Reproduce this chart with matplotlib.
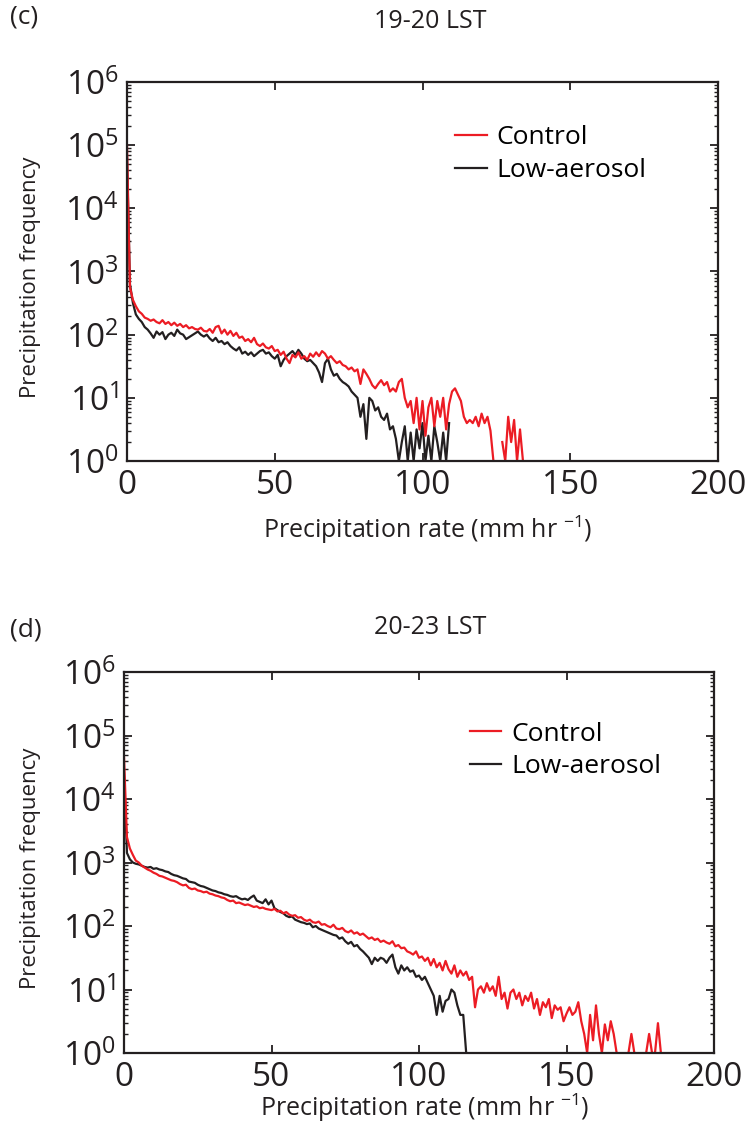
import numpy as np
import matplotlib
matplotlib.use('Agg')
import matplotlib.pyplot as plt
from matplotlib.ticker import LogLocator, NullFormatter

# ----------------------------- data (log10 of precipitation frequency, None = no counts)

# panel (c), 19-20 LST, 1 mm/hr bins starting at 0
ctrl_c = [5.0, 2.75, 2.55, 2.45, 2.37, 2.33, 2.27, 2.25, 2.22, 2.24,
          2.2, 2.18, 2.23, 2.17, 2.2, 2.15, 2.19, 2.14, 2.17, 2.12,
          2.15, 2.1, 2.12, 2.09, 2.08, 2.11, 2.06, 2.05, 2.09, 2.03,
          2.12, 2.14, 2.02, 2.08, 2.0, 2.06, 1.98, 2.03, 1.95, 1.97,
          1.9, 1.93, 1.88, 1.95, 1.85, 1.82, 1.86, 1.8, 1.78, 1.82,
          1.74, 1.76, 1.68, 1.73, 1.62, 1.55, 1.68, 1.64, 1.72, 1.62,
          1.66, 1.6, 1.7, 1.65, 1.72, 1.66, 1.74, 1.7, 1.62, 1.66,
          1.6, 1.55, 1.58, 1.52, 1.5, 1.45, 1.48, 1.42, 1.45, 1.22,
          1.45, 1.38, 1.3, 1.2, 1.15, 1.22, 1.28, 1.2, 1.25, 1.1,
          1.15, 1.1, 1.25, 1.3, 1.0, 0.85, 0.95, 0.6, 1.0, 0.5,
          0.95, 0.4, 0.85, 1.0, 0.55, 0.95, 0.7, 1.0, 0.5, 0.9,
          1.1, 1.15, 1.05, 0.95, 0.7, 0.6, 0.65, 0.6, 0.7, 0.55,
          0.75, 0.6, 0.7, 0.48, 0.0, None, None, 0.3, 0.0, 0.7,
          0.3, 0.65, 0.0, 0.5, 0.0]

low_c = [4.8, 2.8, 2.5, 2.32, 2.25, 2.2, 2.12, 2.08, 2.02, 1.95,
         2.05, 2.0, 2.04, 1.93, 2.0, 2.03, 1.98, 2.08, 2.02, 2.0,
         1.93, 1.96, 1.99, 2.02, 2.05, 2.0, 1.97, 2.0, 1.94, 1.9,
         1.95, 1.88, 1.9, 1.85, 1.88, 1.82, 1.78, 1.75, 1.8, 1.7,
         1.73, 1.68, 1.72, 1.66, 1.7, 1.74, 1.76, 1.7, 1.72, 1.66,
         1.62, 1.68, 1.5, 1.6, 1.66, 1.7, 1.74, 1.68, 1.76, 1.7,
         1.62, 1.58, 1.6, 1.55, 1.5, 1.4, 1.25, 1.55, 1.62, 1.45,
         1.35, 1.38, 1.3, 1.25, 1.22, 1.18, 1.1, 1.05, 1.0, 0.7,
         0.9, 0.35, 1.0, 0.95, 0.8, 0.85, 0.7, 0.65, 0.75, 0.5,
         0.55, 0.35, 0.0, 0.3, 0.55, 0.0, 0.45, 0.0, 0.5, 0.2,
         0.6, 0.0, 0.4, 0.0, 0.55, 0.3, 0.0, 0.45, 0.0, 0.6]

# panel (d), 20-23 LST
ctrl_d = [4.66, 3.4, 3.22, 3.12, 3.03, 3.0, 2.95, 2.92, 2.89, 2.87,
          2.84, 2.82, 2.79, 2.78, 2.76, 2.74, 2.72, 2.71, 2.69, 2.66,
          2.64, 2.65, 2.6, 2.58, 2.59, 2.56, 2.55, 2.53, 2.54, 2.51,
          2.5, 2.48, 2.47, 2.45, 2.44, 2.41, 2.39, 2.4, 2.36, 2.37,
          2.35, 2.33, 2.34, 2.32, 2.3, 2.31, 2.28, 2.29, 2.27, 2.26,
          2.25, 2.27, 2.23, 2.24, 2.2, 2.22, 2.18, 2.16, 2.17, 2.13,
          2.14, 2.1, 2.08, 2.1, 2.06, 2.05, 2.07, 2.02, 2.03, 2.0,
          1.98, 2.02, 1.96, 1.95, 1.97, 1.92, 1.9, 1.93, 1.88, 1.9,
          1.86, 1.88, 1.84, 1.8, 1.82, 1.78, 1.8, 1.75, 1.77, 1.74,
          1.72, 1.76, 1.68, 1.7, 1.65, 1.66, 1.6, 1.58, 1.55, 1.6,
          1.5, 1.52, 1.45, 1.5, 1.38, 1.48, 1.35, 1.42, 1.3, 1.45,
          1.32, 1.25, 1.38, 1.2, 1.3, 1.22, 1.28, 1.15, 1.2, 0.72,
          1.0, 1.05, 0.95, 1.1, 0.98, 1.05, 0.9, 1.2, 0.85, 0.95,
          0.7, 0.95, 1.0, 0.85, 0.95, 0.75, 0.9, 0.82, 0.95, 0.7,
          0.85, 0.6, 0.8, 0.72, 0.85, 0.55, 0.75, 0.68, 0.72, 0.5,
          0.62, 0.72, 0.6, 0.65, 0.8, 0.5, 0.3, 0.0, 0.6, 0.2,
          0.75, 0.3, 0.0, 0.45, 0.2, 0.5, 0.3, 0.0, None, None,
          None, 0.0, 0.3, 0.0, None, None, None, 0.0, 0.3, 0.0,
          0.0, 0.47, 0.0, None]

low_d = [4.4, 3.15, 3.05, 3.0, 2.98, 2.97, 2.95, 2.93, 2.92, 2.93,
         2.9, 2.91, 2.89, 2.88, 2.86, 2.85, 2.82, 2.8, 2.79, 2.77,
         2.75, 2.74, 2.7, 2.69, 2.68, 2.65, 2.63, 2.62, 2.6, 2.58,
         2.56, 2.55, 2.53, 2.52, 2.5, 2.49, 2.47, 2.46, 2.47, 2.44,
         2.42, 2.43, 2.41, 2.45, 2.48, 2.4, 2.38, 2.36, 2.42, 2.34,
         2.4, 2.28, 2.25, 2.22, 2.2, 2.16, 2.14, 2.15, 2.1, 2.08,
         2.06, 2.05, 2.03, 2.04, 1.98, 2.0, 1.96, 1.94, 1.92, 1.9,
         1.88, 1.86, 1.85, 1.8, 1.82, 1.76, 1.72, 1.75, 1.68, 1.7,
         1.64, 1.6, 1.55, 1.5, 1.4, 1.5, 1.45, 1.5, 1.48, 1.42,
         1.5, 1.55, 1.35, 1.25, 1.38, 1.3, 1.35, 1.28, 1.3, 1.2,
         1.22, 1.15, 1.2, 1.1, 1.0, 0.9, 0.6, 0.9, 0.65, 0.82,
         0.85, 1.0, 0.95, 0.75, 0.6, 0.6, 0.0]

xticks = [0, 50, 100, 150, 200]
series_labels = ['Control', 'Low-aerosol']

# ----------------------------- style

plt.rcParams['font.family'] = 'Open Sans'
plt.rcParams['mathtext.fontset'] = 'custom'
plt.rcParams['mathtext.rm'] = 'Open Sans'
plt.rcParams['mathtext.it'] = 'Open Sans:italic'
plt.rcParams['mathtext.bf'] = 'Open Sans:bold'

red = '#ec1c24'
black = '#231f20'


def to_freq(vals):
    v = np.array([np.nan if x is None else x for x in vals], dtype=float)
    return 10 ** v


def panel(ax, ctrl, low, leg_xy, xlab_y, ylab_x):
    ax.plot(np.arange(len(low)), to_freq(low), color=black, lw=1.6)
    ax.plot(np.arange(len(ctrl)), to_freq(ctrl), color=red, lw=1.6)
    ax.set_yscale('log')
    ax.set_xlim(0, 200)
    ax.set_ylim(1, 1e6)
    ax.set_xticks(xticks)
    ax.yaxis.set_major_locator(LogLocator(base=10, numticks=10))
    ax.yaxis.set_minor_locator(LogLocator(base=10, subs=np.arange(2, 10), numticks=20))
    ax.yaxis.set_minor_formatter(NullFormatter())
    ax.tick_params(which='both', direction='in', top=True, right=True,
                   labelsize=24, pad=6, colors=black)
    ax.tick_params(which='major', length=6, width=1.3)
    ax.tick_params(which='minor', length=3, width=1.0)
    for s in ax.spines.values():
        s.set_linewidth(1.6)
        s.set_color(black)
    ax.set_xlabel('Precipitation rate (mm hr $^{-1}$)', fontsize=18, color=black)
    ax.set_ylabel('Precipitation frequency', fontsize=16, color=black)
    ax.xaxis.set_label_coords(0.509, xlab_y)
    ax.yaxis.set_label_coords(ylab_x, 0.485)
    h = ax.get_lines()
    ax.legend([h[1], h[0]], series_labels, loc='upper left', bbox_to_anchor=leg_xy,
              frameon=False, fontsize=19, handlelength=1.2, handletextpad=0.38,
              labelspacing=0.3, borderpad=0, borderaxespad=0)


fig = plt.figure(figsize=(7.56, 11.3), dpi=100)

ax1 = fig.add_axes([127 / 756, 1 - 461 / 1130, 591 / 756, 379 / 1130])
panel(ax1, ctrl_c, low_c, (0.555, 0.887), -0.14, -0.145)

ax2 = fig.add_axes([124 / 756, 1 - 1053 / 1130, 590 / 756, 381 / 1130])
panel(ax2, ctrl_d, low_d, (0.586, 0.87), -0.1, -0.14)

fig.text(10 / 756, 1 - 17 / 1130, '(c)', fontsize=19, va='center', color=black)
fig.text(430 / 756, 1 - 22 / 1130, '19-20 LST', fontsize=18, ha='center', va='center', color=black)
fig.text(10 / 756, 1 - 630 / 1130, '(d)', fontsize=19, va='center', color=black)
fig.text(430 / 756, 1 - 628 / 1130, '20-23 LST', fontsize=18, ha='center', va='center', color=black)

fig.savefig('out.png', dpi=100)
